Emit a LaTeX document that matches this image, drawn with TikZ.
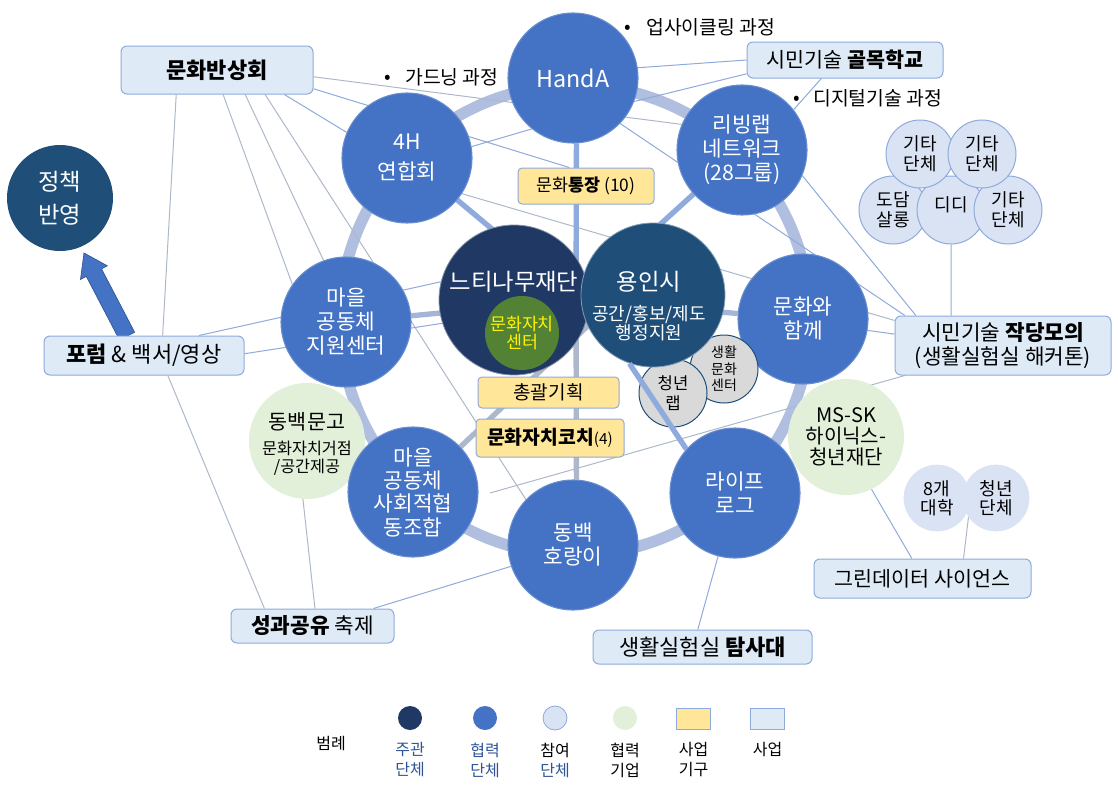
\documentclass[tikz,border=0pt]{standalone}
\usepackage{fontspec}
\setmainfont{Noto Sans CJK KR}
\usetikzlibrary{calc}
\definecolor{navy}{HTML}{203864}
\definecolor{ynavy}{HTML}{1F4E79}
\definecolor{coop}{HTML}{4472C4}
\definecolor{cgreen}{HTML}{548235}
\definecolor{partic}{HTML}{DAE3F3}
\definecolor{pedge}{HTML}{8FAADC}
\definecolor{lgreen}{HTML}{E2F0D9}
\definecolor{ybox}{HTML}{FFE699}
\definecolor{bbox}{HTML}{DEEBF7}
\definecolor{ringcol}{HTML}{B0BEE0}
\definecolor{sgray}{HTML}{ADB9CA}
\definecolor{smid}{HTML}{A5B5DA}
\definecolor{lgray}{HTML}{D9D9D9}
\definecolor{legblue}{HTML}{2F5597}
\newcommand\fs[2]{\fontsize{#1}{#2}\selectfont}
\pgfdeclarelayer{bgl}
\pgfdeclarelayer{ringlayer}
\pgfdeclarelayer{linelayer}
\pgfsetlayers{bgl,ringlayer,linelayer,main}
\begin{document}
\begin{tikzpicture}[x=0.75pt,y=-0.75pt,
  coopc/.style={circle, fill=coop, draw=coop!80!white, line width=0.8pt, minimum size=97.5pt, inner sep=0pt, text=white, align=center, font=\fs{16}{18}},
  grayc/.style={circle, fill=lgray, draw=ynavy, line width=0.75pt, inner sep=0pt, align=center},
  pc/.style={circle, fill=partic, draw=pedge, line width=0.75pt, minimum size=51pt, inner sep=0pt, align=center, font=\fs{13.5}{15}},
  pcn/.style={circle, fill=partic, minimum size=50pt, inner sep=0pt, align=center, font=\fs{13.5}{14}},
  lgc/.style={circle, fill=lgreen, minimum size=87pt, inner sep=0pt, align=center},
  bx/.style={rectangle, rounded corners=4.5pt, fill=bbox, draw=pedge, line width=0.75pt, inner sep=0pt, align=center, font=\fs{16}{18}},
  yb/.style={rectangle, rounded corners=3pt, fill=ybox, draw=pedge, line width=0.75pt, inner sep=0pt, align=center},
  thinb/.style={draw=pedge, line width=0.75pt},
  thing/.style={draw=sgray, line width=0.75pt},
  spokeb/.style={draw=pedge, line width=4pt},
  spokem/.style={draw=smid, line width=4pt},
  spokeg/.style={draw=sgray, line width=4pt},
  ringst/.style={draw=ringcol, line width=8.5pt},
  txt/.style={inner sep=0pt, align=center}
]
\useasboundingbox (0,0) rectangle (1118,785);
\begin{pgfonlayer}{bgl}
  \fill[white] (0,0) rectangle (1118,785);
\end{pgfonlayer}

\coordinate (ringcenter) at (575,320);
\coordinate (hub) at (577,300);
\coordinate (hubS) at (615,300);
\coordinate (hubV) at (576,300);
\coordinate (freeA) at (490,493);

% block arrow
\filldraw[fill=coop, draw=legblue, line width=0.5pt]
  (119.4,339.8) -- (86.3,276.4) -- (80.5,279.4) -- (84,253) -- (107.3,265.8) -- (101.5,268.8) -- (134.6,332.2) -- cycle;

% policy circle
\node[circle, fill=ynavy, minimum size=79.5pt, inner sep=0pt, text=white, align=center, font=\fs{17.5}{24.75}] (pol) at (60,198) {정책\\반영};

% business boxes
\node[bx, minimum width=144pt, minimum height=36pt, font=\bfseries\fs{16.5}{18}] (banhang) at (217,70) {문화반상회};
\node[bx, minimum width=147pt, minimum height=27pt, font=\fs{15.5}{18}] (gm) at (845,60) {시민기술 \textbf{골목학교}};
\node[bx, minimum width=162pt, minimum height=44.25pt] (jd) at (1003,345.5) {시민기술 \textbf{작당모의}\\(생활실험실 해커톤)};
\node[bx, minimum width=150pt, minimum height=29.25pt, font=\fs{16.5}{18}] (forum) at (144,355.5) {\textbf{포럼} \& 백서/영상};
\node[bx, minimum width=122.25pt, minimum height=25.5pt] (sg) at (312.5,626) {\textbf{성과공유} 축제};
\node[bx, minimum width=164.25pt, minimum height=25.5pt, font=\fs{16.5}{18}] (ts) at (702.5,647) {생활실험실 \textbf{탐사대}};
\node[bx, minimum width=162.75pt, minimum height=29.25pt, font=\fs{15.5}{18}] (gd) at (922.5,578.5) {그린데이터 사이언스};

% participant circles
\node[pc] (dodam) at (893,210) {도담\\살롱};
\node[pc] (dd) at (951,210) {\raisebox{9pt}{디디}};
\node[pc] (g3) at (1008,210) {기타\\단체};
\node[pc] (g1) at (920,154) {기타\\단체};
\node[pc] (g2) at (982,154) {기타\\단체};
\node[pcn] (uni) at (937,498) {8개\\대학};
\node[pcn] (yd) at (996,498) {청년\\단체};

% cooperating companies
\node[lgc] (dm) at (307,441) {};
\node[txt, font=\fs{15.5}{17}] (dmt) at (307,422) {동백문고};
\node[txt, font=\fs{12.2}{13.5}] (dms) at (307,458) {문화자치거점\\/공간제공};
\node[lgc, font=\fs{15}{15.75}] (ms) at (846,437) {MS-SK\\하이닉스-\\청년재단};

% cooperating groups
\node[coopc, font=\fs{17.5}{20}] (handa) at (573,78) {HandA};
\node[coopc, font=\fs{16}{22.5}] (h4) at (407,158) {4H\\연합회};
\node[coopc] (rl) at (742,150) {리빙랩\\네트워크\\(28그룹)};
\node[coopc] (jw) at (346,322) {마을\\공동체\\지원센터};
\node[coopc] (mw) at (803,319) {문화와\\함께};
\node[coopc, font=\fs{16}{17.5}] (sj) at (413,492) {마을\\공동체\\사회적협\\동조합};
\node[coopc] (db) at (573,545) {동백\\호랑이};
\node[coopc] (life) at (735,493) {라이프\\로그};

% gray circles
\node[grayc, minimum size=51pt, font=\fs{10.5}{12.4}] (sh) at (724,369) {생활\\문화\\센터};
\node[grayc, minimum size=51pt, font=\fs{12.5}{15}] (cl) at (673,393) {청년\\랩};

% centre
\node[circle, fill=navy, draw=navy!55!white, line width=0.6pt, minimum size=112.5pt, inner sep=0pt] (nuti) at (514,300) {};
\node[txt, text=white, font=\fs{17.5}{18}] (nutit) at (514,282) {느티나무재단};
\node[circle, fill=cgreen, minimum size=55.5pt, inner sep=0pt, text=yellow, align=center, font=\fs{13}{13}] (cen) at (522,333) {문화자치\\센터};
\node[circle, fill=ynavy, draw=ynavy!55!white, line width=0.6pt, minimum size=108pt, inner sep=0pt] (yongin) at (653,295) {};
\node[txt, text=white, font=\fs{17.5}{18}] (yongint) at (649,282) {용인시};
\node[txt, text=white, font=\fs{13.5}{14.5}] (yongins) at (649,323) {공간/홍보/제도\\행정지원};

% spoke over the youth lab circle
\draw[spokeb] (yongin.-109) -- (life.138);

% yellow boxes
\node[yb, minimum width=102pt, minimum height=27pt, font=\fs{13}{15}] (tong) at (586,186) {문화\textbf{통장} (10)};
\node[yb, minimum width=105.75pt, minimum height=23.25pt, font=\fs{14.3}{16}] (chong) at (548.5,392.5) {총괄기획};
\node[yb, minimum width=111pt, minimum height=28.5pt, font=\fs{14.5}{16}] (coach) at (550,438) {\textbf{문화자치코치}{\fs{11.5}{13}(4)}};

% bullets
\node[txt, font=\fs{14.5}{16}] (bu1) at (628,29) {•};
\node[txt, anchor=west, font=\fs{14.5}{16}] (bt1) at (646,27) {업사이클링 과정};
\node[txt, font=\fs{14.5}{16}] (bu2) at (388,79) {•};
\node[txt, anchor=west, font=\fs{14.5}{16}] (bt2) at (405,77) {가드닝 과정};
\node[txt, font=\fs{14.5}{16}] (bu3) at (797,100) {•};
\node[txt, anchor=west, font=\fs{14.5}{16}] (bt3) at (813,98) {디지털기술 과정};

% legend
\node[txt, font=\fs{12}{14}] (leg) at (331,744) {범례};
\node[circle, fill=navy, minimum size=18pt, inner sep=0pt] (lg1) at (410,718) {};
\node[circle, fill=coop, minimum size=18pt, inner sep=0pt] (lg2) at (485,718) {};
\node[circle, fill=partic, draw=pedge, line width=0.6pt, minimum size=18pt, inner sep=0pt] (lg3) at (555,718) {};
\node[circle, fill=lgreen, minimum size=18pt, inner sep=0pt] (lg4) at (625,718) {};
\node[rectangle, fill=ybox, draw=pedge, line width=0.6pt, minimum width=26pt, minimum height=16pt, inner sep=0pt] (lg5) at (693.5,719) {};
\node[rectangle, fill=bbox, draw=pedge, line width=0.6pt, minimum width=26pt, minimum height=16pt, inner sep=0pt] (lg6) at (767.5,719) {};
\node[txt, text=legblue, font=\fs{12}{15}] (lt1) at (410,760) {주관\\단체};
\node[txt, text=legblue, font=\fs{12}{15}] (lt2) at (485,760) {협력\\단체};
\node[txt, text=legblue, font=\fs{12}{15}] (lt3) at (555,760) {{\color{black}참여}\\단체};
\node[txt, font=\fs{12}{15}] (lt4) at (625,760) {협력\\기업};
\node[txt, font=\fs{12}{15}] (lt5) at (693.5,760) {사업\\기구};
\node[txt, font=\fs{12}{15}] (lt6) at (767.5,750) {사업};

% ring
\begin{pgfonlayer}{ringlayer}
  \draw[ringst] (ringcenter) circle[radius=176.25pt];
\end{pgfonlayer}

% connectors
\begin{pgfonlayer}{linelayer}
  \draw[thing] (banhang.-4) -- (rl.157);
  \draw[thinb] (banhang.-11) -- (tong.132);
  \draw[thinb] (banhang.-20) -- (h4.157);
  \draw[thing] (banhang.-41) -- (jw.110);
  \draw[thing] (banhang.-76) -- (jw.145);
  \draw[thing] (banhang.-27) -- (db.136);
  \draw[thing] (banhang.-149) -- (forum.47);
  \draw[thinb] (forum.1) -- (nuti.-162);
  \draw[thinb] (forum.20) -- (nuti.166);
  \draw[thing] (forum.-40) -- (sg.160);
  \draw[thinb] (h4.10) -- (handa.-129);
  \draw[thing] (h4.-33) -- (jd.167);
  \draw[thinb] (gm.180) -- (handa.9);
  \draw[thinb] (gm.-172) -- (handa.-21);
  \draw[thinb] (gm.-142) -- (rl.38);
  \draw[thinb] (handa.-44) -- (jd.163);
  \draw[thinb] (rl.-23) -- (jd.161);
  \draw[thinb] (mw.-10) -- (jd.174);
  \draw[thing] (jd.-163) -- (freeA);
  \draw[thinb] (dd.south) -- (jd.150);
  \draw[thinb] (ms.-64) -- (gd.118);
  \draw[thing] (yd.-145) -- (gd.26);
  \draw[thinb] (life.-105) -- (ts.105);
  \draw[thinb] (db.-161) -- (sg.16);
  \draw[thing] (dm.-94) -- (sg.82);
  % spokes
  \draw[spokeb] (h4) -- (hub);
  \draw[spokeb] (rl) -- (hub);
  \draw[spokem] (jw) -- (hub);
  \draw[spokem] (mw) -- (hub);
  \draw[spokeg] (sj) -- (hubS);
  \draw[spokeb] (handa.-87) -- (hubV);
  \draw[spokeg] (hubV) -- (db.87);
\end{pgfonlayer}
\end{tikzpicture}
\end{document}
